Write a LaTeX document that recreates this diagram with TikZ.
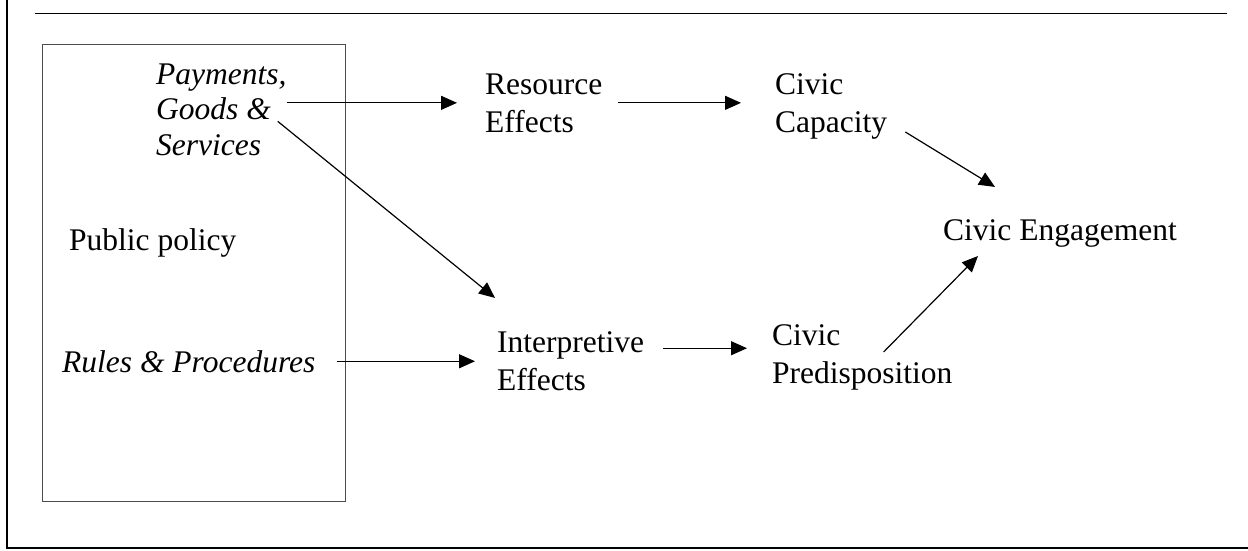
\documentclass[tikz,border=0pt]{standalone}
\usepackage{fontspec}
\setmainfont{Liberation Serif}
\usetikzlibrary{arrows.meta, positioning, calc}

\begin{document}
\begin{tikzpicture}[
    x=1pt, y=-1pt,
    txt/.style={inner sep=0pt, anchor=base west, align=left, font=\fontsize{31.5}{38}\selectfont},
    itxt/.style={txt, font=\itshape\fontsize{31.5}{35.5}\selectfont},
    arrow/.style={line width=1.2pt, -{Triangle[length=16pt,width=14pt]}}
]

\useasboundingbox (0,0) rectangle (1248,550);

% outer rules of the figure
\draw[line width=1.7pt] (7,0) -- (7,547);
\draw[line width=2.3pt] (6.15,548) -- (1248,548);
\draw[line width=1.3pt] (35,13.5) -- (1227,13.5);

% policy box
\node[draw=black!70, line width=1.3pt, minimum width=303.5pt, minimum height=457.5pt,
      inner sep=0pt, anchor=north west] (policy) at (41.5,43.5) {};

\node[itxt] (pay) at (156,155) {Payments,\\Goods \&\\Services};
\node[txt] (pub) at (69,250) {Public policy};
\node[itxt] (rul) at (62,372) {Rules \& Procedures};

\node[txt] (res) at (485,132) {Resource\\Effects};
\node[txt] (cap) at (775,132) {Civic\\Capacity};
\node[txt] (int) at (497,390) {Interpretive\\Effects};
\node[txt] (pred) at (772,383) {Civic\\Predisposition};
\node[txt] (eng) at (943,240) {Civic Engagement};

\draw[arrow] (pay.east |- res.west) -- ([xshift=-28pt]res.west);
\draw[arrow, shorten <=15pt, shorten >=34pt] (res.east) -- (res.east -| cap.west);
\draw[arrow] ($(cap.south east)+(18,-7)$) -- ($(eng.north west)+(52,-32)$);
\draw[arrow] ($(pay.east)+(-9,12)$) -- ($(int.north west)+(-2,-33)$);
\draw[arrow, shorten <=21pt, shorten >=22pt] (rul.east) -- (rul.east -| int.west);
\draw[arrow] ($(int.east)+(19,-12.5)$) -- ($(int.east -| pred.west)+(-25,-12.5)$);
\draw[arrow] ($(pred.north east)+(-69,28)$) -- ($(eng.south west)+(35,9)$);

\end{tikzpicture}
\end{document}
